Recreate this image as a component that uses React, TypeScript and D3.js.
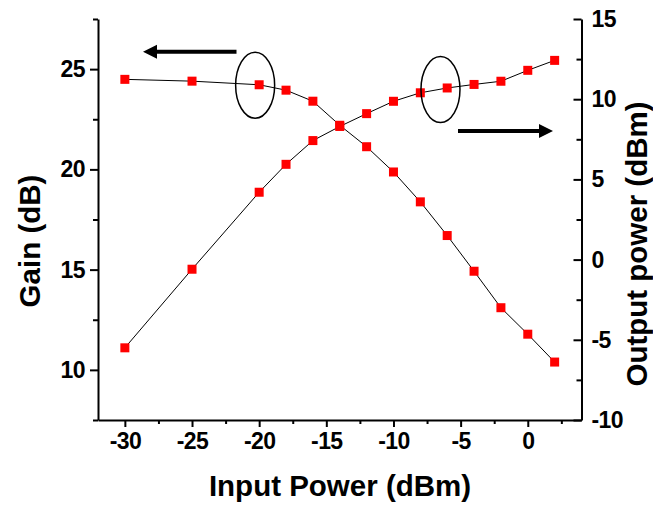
import React, { useEffect, useRef } from "react";
import * as d3 from "d3";

const inputPower = [-30, -25, -20, -18, -16, -14, -12, -10, -8, -6, -4, -2, 0, 2];
const gain = [24.49, 24.4, 24.22, 23.95, 23.4, 22.2, 21.13, 19.87, 18.38, 16.7, 14.92, 13.1, 11.78, 10.39];
const outputPower = [-5.5, -0.6, 4.2, 5.94, 7.42, 8.3, 9.1, 9.87, 10.4, 10.7, 10.92, 11.12, 11.8, 12.42];
const xTicks = [-30, -25, -20, -15, -10, -5, 0];
const xMinorTicks = [-27.5, -22.5, -17.5, -12.5, -7.5, -2.5, 2.5];
const gainTicks = [10, 15, 20, 25];
const gainMinorTicks = [7.5, 12.5, 17.5, 22.5, 27.5];
const outTicks = [-10, -5, 0, 5, 10, 15];
const outMinorTicks = [-7.5, -2.5, 2.5, 7.5, 12.5];

const W = 653, H = 505;
const L = 98, R = 581.5, T = 19, B = 420;
const FONT = "'Liberation Sans', Arial, sans-serif";
const TICK_FS = 23;

export default function App() {
  const ref = useRef<SVGSVGElement>(null);
  useEffect(() => {
    const svg = d3.select(ref.current);
    svg.selectAll("*").remove();
    const x = d3.scaleLinear().domain([-32, 4]).range([L, R]);
    const yG = d3.scaleLinear().domain([7.5, 27.5]).range([B, T]);
    const yO = d3.scaleLinear().domain([-10, 15]).range([B, T]);

    const styleAxis = (g: any) => {
      g.selectAll("path.domain").attr("stroke", "#000").attr("stroke-width", 2);
      g.selectAll("line").attr("stroke", "#000").attr("stroke-width", 2);
      g.selectAll("text").attr("font-family", FONT).attr("font-weight", "bold").attr("font-size", TICK_FS).attr("fill", "#000");
    };

    // x axis
    const gx = svg.append("g").attr("transform", `translate(0,${B})`);
    gx.call(d3.axisBottom(x).tickValues(xTicks).tickSize(7).tickPadding(6).tickSizeOuter(0).tickFormat((d: any) => String(d)));
    styleAxis(gx);
    gx.selectAll("text").attr("dy", "0.71em").attr("letter-spacing", "-0.6");
    const gxm = svg.append("g").attr("transform", `translate(0,${B})`);
    gxm.call(d3.axisBottom(x).tickValues(xMinorTicks).tickSize(4).tickSizeOuter(0).tickFormat(() => ""));
    styleAxis(gxm);
    gxm.select("path.domain").remove();

    // left axis
    const gl = svg.append("g").attr("transform", `translate(${L},0)`);
    gl.call(d3.axisLeft(yG).tickValues(gainTicks).tickSize(8).tickPadding(5).tickSizeOuter(0).tickFormat((d: any) => String(d)));
    styleAxis(gl);
    gl.selectAll("text").attr("letter-spacing", "-0.6");
    const glm = svg.append("g").attr("transform", `translate(${L},0)`);
    glm.call(d3.axisLeft(yG).tickValues(gainMinorTicks).tickSize(5).tickSizeOuter(0).tickFormat(() => ""));
    styleAxis(glm);
    glm.select("path.domain").remove();

    // right axis (ticks inward, labels outside)
    const gr = svg.append("g").attr("transform", `translate(${R},0)`);
    gr.call(d3.axisLeft(yO).tickValues(outTicks).tickSize(8).tickSizeOuter(0).tickFormat(() => ""));
    styleAxis(gr);
    const grm = svg.append("g").attr("transform", `translate(${R},0)`);
    grm.call(d3.axisLeft(yO).tickValues(outMinorTicks).tickSize(5).tickSizeOuter(0).tickFormat(() => ""));
    styleAxis(grm);
    grm.select("path.domain").remove();
    svg.append("g").selectAll("text").data(outTicks).join("text")
      .attr("x", R + 10).attr("y", (d) => yO(d)).attr("dy", "0.35em")
      .attr("font-family", FONT).attr("font-weight", "bold").attr("font-size", TICK_FS)
      .attr("letter-spacing", "-0.6").text((d) => String(d));

    // axis titles
    svg.append("text").attr("x", 340).attr("y", 496).attr("text-anchor", "middle")
      .attr("font-family", FONT).attr("font-weight", "bold").attr("font-size", 29.5)
      .text("Input Power (dBm)");
    svg.append("text").attr("transform", `translate(40,241) rotate(-90)`).attr("text-anchor", "middle")
      .attr("font-family", FONT).attr("font-weight", "bold").attr("font-size", 29.5)
      .text("Gain (dB)");
    svg.append("text").attr("transform", `translate(647,244) rotate(-90)`).attr("text-anchor", "middle")
      .attr("font-family", FONT).attr("font-weight", "bold").attr("font-size", 29.5)
      .text("Output power (dBm)");

    // lines
    const idx = d3.range(inputPower.length);
    const lineG = d3.line<number>().x((i) => x(inputPower[i])).y((i) => yG(gain[i]));
    const lineO = d3.line<number>().x((i) => x(inputPower[i])).y((i) => yO(outputPower[i]));
    svg.append("path").attr("d", lineG(idx)!).attr("fill", "none").attr("stroke", "#000").attr("stroke-width", 1);
    svg.append("path").attr("d", lineO(idx)!).attr("fill", "none").attr("stroke", "#000").attr("stroke-width", 1);

    const s = 9;
    svg.append("g").selectAll("rect").data(idx).join("rect")
      .attr("x", (i) => x(inputPower[i]) - s / 2).attr("y", (i) => yG(gain[i]) - s / 2)
      .attr("width", s).attr("height", s).attr("fill", "#ff0000");
    svg.append("g").selectAll("rect").data(idx).join("rect")
      .attr("x", (i) => x(inputPower[i]) - s / 2).attr("y", (i) => yO(outputPower[i]) - s / 2)
      .attr("width", s).attr("height", s).attr("fill", "#ff0000");

    // ellipses
    svg.append("ellipse").attr("cx", x(-20.3)).attr("cy", yG(24.2)).attr("rx", 19.5).attr("ry", 33)
      .attr("fill", "none").attr("stroke", "#000").attr("stroke-width", 1.5);
    svg.append("ellipse").attr("cx", x(-6.5)).attr("cy", yO(10.6)).attr("rx", 19.5).attr("ry", 33)
      .attr("fill", "none").attr("stroke", "#000").attr("stroke-width", 1.5);

    // arrows
    const arrow = (x1: number, x2: number, y: number) => {
      const dir = Math.sign(x2 - x1);
      const base = x2 - dir * 14;
      svg.append("line").attr("x1", x1).attr("x2", base).attr("y1", y).attr("y2", y)
        .attr("stroke", "#000").attr("stroke-width", 4);
      svg.append("path").attr("d", `M${x2},${y} L${base},${y - 7} L${base},${y + 7} Z`).attr("fill", "#000");
    };
    arrow(236.5, 143, 51.7);
    arrow(458, 553, 131);
  }, []);
  return (
    <svg ref={ref} width={W} height={H} style={{ position: "absolute", left: 0, top: 0, background: "#fff" }} />
  );
}
